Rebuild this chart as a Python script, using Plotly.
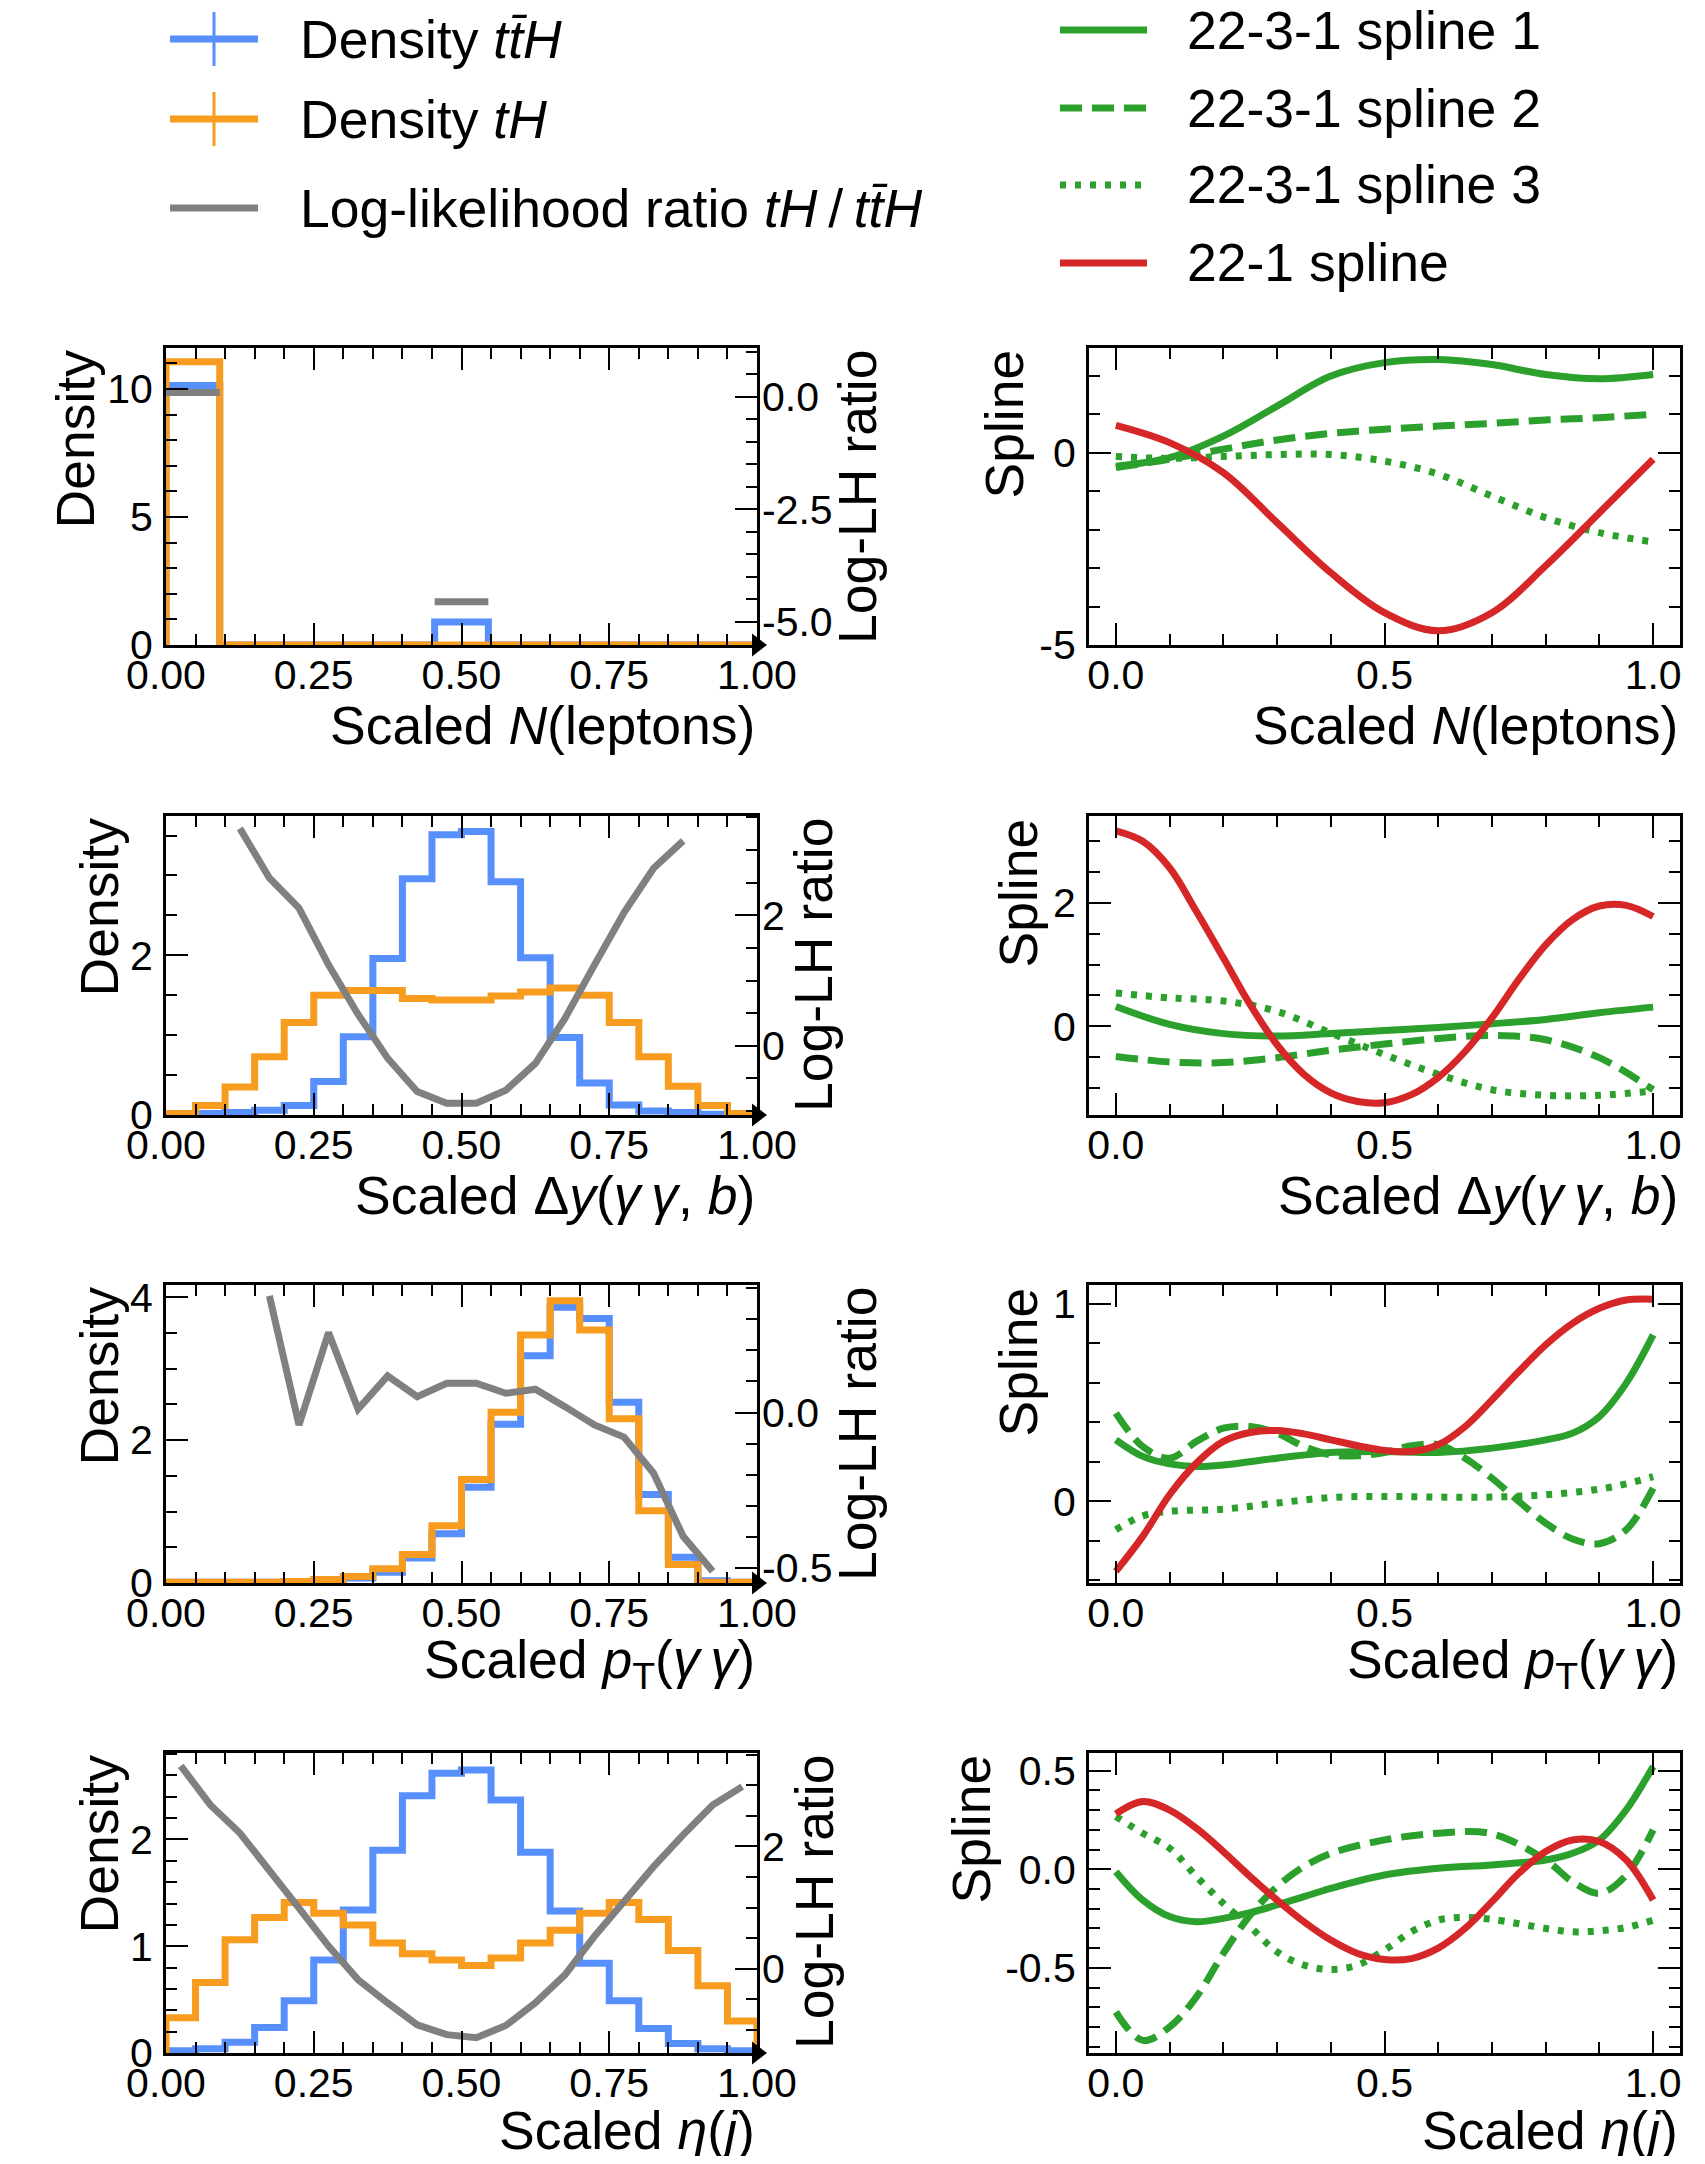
import numpy as np
import plotly.graph_objects as go

# page is 1705x2164; the browser body has an 8px margin, so the figure is inset
PAGE_W, PAGE_H = 1705, 2164
OFF = 8
W, H = PAGE_W - 2 * OFF, PAGE_H - 2 * OFF
FONT = "Liberation Sans"
TITLE_SIZE = 53.5
TICK_SIZE = 41

BLUE = "#5790fc"
ORANGE = "#f89c20"
GRAY = "#808080"
GREEN = "#2ca02c"
RED = "#d62728"

# ---------------- data ----------------
# Row 1: scaled N(leptons), 11 bins
NLEP_TTH = [10.14, 0, 0, 0, 0, 0.90, 0, 0, 0, 0, 0]
NLEP_TH = [11.06, 0, 0, 0, 0, 0.0, 0, 0, 0, 0, 0]
NLEP_LLR = [0.09, None, None, None, None, -4.55, None, None, None, None, None]

# Row 2: scaled Delta y(gamma gamma, b), 20 bins
DY_TTH = [0.0, 0.02, 0.03, 0.06, 0.12, 0.42, 0.98, 1.96, 2.96, 3.51,
          3.55, 2.92, 1.97, 0.97, 0.40, 0.125, 0.05, 0.03, 0.01, 0.0]
DY_TH = [0.02, 0.12, 0.35, 0.73, 1.16, 1.50, 1.56, 1.56, 1.46, 1.44,
         1.44, 1.49, 1.54, 1.59, 1.50, 1.16, 0.73, 0.36, 0.12, 0.02]
DY_LLR = [None, None, 3.33, 2.57, 2.11, 1.24, 0.48, -0.19, -0.70, -0.88,
          -0.88, -0.68, -0.27, 0.42, 1.24, 2.04, 2.72, 3.14, None, None]

# Row 3: scaled pT(gamma gamma), 20 bins
PT_TTH = [0.01, 0.01, 0.01, 0.01, 0.02, 0.03, 0.07, 0.15, 0.35, 0.69,
          1.34, 2.22, 3.18, 3.86, 3.70, 2.53, 1.24, 0.36, 0.03, 0.01]
PT_TH = [0.01, 0.01, 0.01, 0.01, 0.02, 0.05, 0.09, 0.20, 0.40, 0.80,
         1.45, 2.39, 3.47, 3.95, 3.54, 2.30, 1.01, 0.26, 0.01, 0.01]
PT_LLR = [None, None, None, 0.375, -0.04, 0.257, 0.011, 0.118, 0.051, 0.094,
          0.094, 0.062, 0.075, 0.019, -0.04, -0.079, -0.195, -0.398, -0.51, None]

# Row 4: scaled eta(j), 20 bins
ETA_TTH = [0.02, 0.04, 0.10, 0.24, 0.49, 0.87, 1.34, 1.90, 2.41, 2.62,
           2.65, 2.37, 1.88, 1.33, 0.84, 0.49, 0.23, 0.09, 0.04, 0.02]
ETA_TH = [0.33, 0.66, 1.06, 1.27, 1.41, 1.31, 1.20, 1.03, 0.93, 0.87,
          0.82, 0.89, 1.03, 1.15, 1.31, 1.41, 1.25, 0.96, 0.63, 0.30]
ETA_LLR = [3.32, 2.68, 2.22, 1.62, 0.99, 0.37, -0.18, -0.56, -0.92, -1.08,
           -1.13, -0.93, -0.56, -0.10, 0.53, 1.10, 1.67, 2.19, 2.68, 2.98]

# Spline curves
SPL_X10 = [0.0, 0.1, 0.2, 0.3, 0.4, 0.5, 0.6, 0.7, 0.8, 0.9, 1.0]
SPL_X20 = [0.0, 0.05, 0.1, 0.15, 0.2, 0.25, 0.3, 0.35, 0.4, 0.45, 0.5,
           0.55, 0.6, 0.65, 0.7, 0.75, 0.8, 0.85, 0.9, 0.95, 1.0]

R1_S1 = [-0.35, -0.13, 0.43, 1.21, 1.99, 2.34, 2.42, 2.29, 2.03, 1.92, 2.03]
R1_S2 = [-0.39, -0.17, 0.09, 0.33, 0.50, 0.61, 0.69, 0.76, 0.85, 0.91, 1.0]
R1_S3 = [-0.10, -0.15, -0.10, -0.05, -0.05, -0.22, -0.56, -1.13, -1.69, -2.08, -2.32]
R1_RED = [0.71, 0.26, -0.52, -1.82, -3.12, -4.16, -4.63, -4.16, -2.94, -1.56, -0.17]

R2_S1 = [0.32, 0.03, -0.12, -0.16, -0.12, -0.07, -0.02, 0.04, 0.11, 0.22, 0.31]
R2_S2 = [-0.49, -0.58, -0.59, -0.51, -0.39, -0.29, -0.20, -0.15, -0.22, -0.51, -1.03]
R2_S3 = [0.54, 0.46, 0.41, 0.24, -0.11, -0.46, -0.78, -1.03, -1.12, -1.12, -1.05]
R2_RED = [3.17, 3.0, 2.57, 1.86, 1.11, 0.35, -0.30, -0.78, -1.08, -1.22, -1.24,
          -1.11, -0.83, -0.41, 0.135, 0.76, 1.32, 1.73, 1.95, 1.96, 1.78]

R3_S1_X = [0.0, 0.05, 0.1, 0.15, 0.2, 0.3, 0.4, 0.5, 0.6, 0.7, 0.8, 0.85, 0.9, 0.95, 1.0]
R3_S1 = [0.312, 0.228, 0.19, 0.177, 0.185, 0.219, 0.248, 0.253, 0.248, 0.27, 0.312,
         0.346, 0.43, 0.599, 0.843]
R3_S2 = [0.447, 0.278, 0.219, 0.304, 0.371, 0.379, 0.346, 0.278, 0.236, 0.231, 0.248,
         0.282, 0.287, 0.219, 0.118, 0.0, -0.11, -0.19, -0.214, -0.143, 0.067]
R3_S3_X = [0.0, 0.05, 0.1, 0.2, 0.3, 0.4, 0.5, 0.6, 0.7, 0.8, 0.9, 0.95, 1.0]
R3_S3 = [-0.143, -0.073, -0.05, -0.039, -0.008, 0.02, 0.025, 0.022, 0.022, 0.034,
         0.062, 0.089, 0.126]
R3_RED = [-0.354, -0.177, 0.034, 0.194, 0.304, 0.349, 0.359, 0.342, 0.312, 0.282, 0.258,
          0.253, 0.287, 0.379, 0.514, 0.658, 0.793, 0.902, 0.978, 1.02, 1.024]

R4_S12_X = [0.0, 0.05, 0.1, 0.15, 0.2, 0.25, 0.3, 0.35, 0.4, 0.5, 0.6, 0.7, 0.8,
            0.85, 0.9, 0.95, 1.0]
R4_S1 = [-0.012, -0.156, -0.24, -0.266, -0.249, -0.22, -0.181, -0.139, -0.097,
         -0.029, 0.005, 0.022, 0.047, 0.081, 0.149, 0.302, 0.522]
R4_S2 = [-0.724, -0.868, -0.80, -0.647, -0.427, -0.232, -0.088, 0.014, 0.081,
         0.149, 0.183, 0.18, 0.047, -0.063, -0.122, -0.029, 0.20]
R4_S3_X = [0.0, 0.05, 0.1, 0.15, 0.2, 0.25, 0.3, 0.35, 0.4, 0.45, 0.5, 0.55, 0.6,
           0.65, 0.7, 0.8, 0.85, 0.9, 0.95, 1.0]
R4_S3 = [0.268, 0.183, 0.107, -0.037, -0.173, -0.292, -0.419, -0.486, -0.508, -0.486,
         -0.41, -0.317, -0.258, -0.244, -0.254, -0.30, -0.317, -0.312, -0.295, -0.258]
R4_RED = [0.281, 0.344, 0.30, 0.208, 0.09, -0.037, -0.156, -0.266, -0.359, -0.427,
          -0.458, -0.453, -0.40, -0.30, -0.164, -0.02, 0.09, 0.149, 0.141, 0.047, -0.156]

# Tick labels
HIST_XTICKS = [0.0, 0.25, 0.5, 0.75, 1.0]
HIST_XLABELS = ["0.00", "0.25", "0.50", "0.75", "1.00"]
SPL_XTICKS = [0.0, 0.5, 1.0]
SPL_XLABELS = ["0.0", "0.5", "1.0"]

DENS_TICKS = [[0, 5, 10], [0, 2], [0, 2, 4], [0, 1, 2]]
DENS_LABELS = [["0", "5", "10"], ["0", "2"], ["0", "2", "4"], ["0", "1", "2"]]
LLR_TICKS = [[-5.0, -2.5, 0.0], [0, 2], [-0.5, 0.0], [0, 2]]
LLR_LABELS = [["-5.0", "-2.5", "0.0"], ["0", "2"], ["-0.5", "0.0"], ["0", "2"]]
SPL_TICKS = [[-5, 0], [0, 2], [0, 1], [-0.5, 0.0, 0.5]]
SPL_LABELS = [["-5", "0"], ["0", "2"], ["0", "1"], ["-0.5", "0.0", "0.5"]]

XTITLES = ["Scaled <i>N</i>(leptons)",
           "Scaled Δ<i>y</i>(<i>γ</i>\u2009<i>γ</i>, <i>b</i>)",
           "Scaled <i>p</i><sub>T</sub>(<i>γ</i>\u2009<i>γ</i>)",
           "Scaled <i>η</i>(<i>j</i>)"]

LEGEND_LEFT = ["Density <i>tt\u0304H</i>", "Density <i>tH</i>",
               "Log-likelihood ratio <i>tH</i>\u2009/\u2009<i>tt\u0304H</i>"]
LEGEND_RIGHT = ["22-3-1 spline 1", "22-3-1 spline 2", "22-3-1 spline 3", "22-1 spline"]

# ---------------- styling / layout ----------------
DENS_RANGE = [[0, 11.6], [0, 3.745], [0, 4.17], [0, 2.81]]
DENS_MINOR = [1, 0.5, 0.5, 0.2]
LLR_RANGE = [[-5.51, 1.08], [-1.06, 3.52], [-0.548, 0.41], [-1.38, 3.53]]
LLR_MINOR = [0.5, 0.5, 0.1, 0.5]
SPL_RANGE = [[-5.0, 2.72], [-1.44, 3.41], [-0.413, 1.096], [-0.932, 0.59]]
SPL_MINOR = [1, 0.5, 0.2, 0.1]

# positions in page pixels
LX = (166, 757)
RX = (1089, 1680)
ROWS = [(348, 645), (816, 1115), (1285, 1583), (1753, 2053)]
XTITLE_GAP = [80, 80, 80, 77]
DENS_TITLE_X = [79, 103, 103, 103]
LLR_TITLE_X = [861, 818, 861, 818]
SPL_TITLE_X = [1008, 1022, 1022, 975]

LW = 7
DASH = "22px,10px"
DOT = "6px,9px"


def pxx(p):
    return (p - OFF) / W


def pxy(p):
    return 1 - (p - OFF) / H


def axname(kind, i):
    return kind if i == 1 else f"{kind}{i}"


def laykey(kind, i):
    return f"{kind}axis" if i == 1 else f"{kind}axis{i}"


def hist_xy(vals):
    n = len(vals)
    edges = np.linspace(0, 1, n + 1)
    x = [edges[0]] + list(edges[:-1]) + [edges[-1], edges[-1]]
    y = [0] + list(vals) + [vals[-1], 0]
    return x, y


def centers(n):
    e = np.linspace(0, 1, n + 1)
    return list((e[:-1] + e[1:]) / 2)


def seg_xy(vals):
    n = len(vals)
    e = np.linspace(0, 1, n + 1)
    xs, ys = [], []
    for i, v in enumerate(vals):
        if v is None:
            continue
        xs += [e[i], e[i + 1], None]
        ys += [v, v, None]
    return xs, ys


common_axis = dict(showgrid=False, zeroline=False, showline=True, linewidth=3,
                   linecolor="black", ticks="inside", ticklen=22, tickwidth=2,
                   tickcolor="black", automargin=False,
                   tickfont=dict(size=TICK_SIZE, family=FONT, color="black"))


def minor(d):
    return dict(ticks="inside", ticklen=11, tickwidth=2, tickcolor="black",
                tickmode="linear", tick0=0, dtick=d, showgrid=False)


fig = go.Figure()
layout = dict(template="none", width=W, height=H, margin=dict(l=0, r=0, t=0, b=0, pad=0),
              autosize=False, paper_bgcolor="white", plot_bgcolor="rgba(0,0,0,0)",
              showlegend=False, font=dict(family=FONT, color="black"))
annotations = []
shapes = []

hist_tth = [NLEP_TTH, DY_TTH, PT_TTH, ETA_TTH]
hist_th = [NLEP_TH, DY_TH, PT_TH, ETA_TH]
llrs = [NLEP_LLR, DY_LLR, PT_LLR, ETA_LLR]
splines = [
    [(SPL_X10, R1_S1, "solid"), (SPL_X10, R1_S2, DASH), (SPL_X10, R1_S3, DOT), (SPL_X10, R1_RED, "red")],
    [(SPL_X10, R2_S1, "solid"), (SPL_X10, R2_S2, DASH), (SPL_X10, R2_S3, DOT), (SPL_X20, R2_RED, "red")],
    [(R3_S1_X, R3_S1, "solid"), (SPL_X20, R3_S2, DASH), (R3_S3_X, R3_S3, DOT), (SPL_X20, R3_RED, "red")],
    [(R4_S12_X, R4_S1, "solid"), (R4_S12_X, R4_S2, DASH), (R4_S3_X, R4_S3, DOT), (SPL_X20, R4_RED, "red")],
]

for r in range(4):
    top, bot = ROWS[r]
    ydom = [pxy(bot), pxy(top)]
    xl, xr = 2 * r + 1, 2 * r + 2
    yl, yll, yr = 3 * r + 1, 3 * r + 2, 3 * r + 3

    # ----- left panel -----
    layout[laykey("x", xl)] = dict(common_axis, domain=[pxx(LX[0]), pxx(LX[1])], range=[0, 1],
                                   anchor=axname("y", yl), mirror="ticks", tickmode="array",
                                   tickvals=HIST_XTICKS, ticktext=HIST_XLABELS,
                                   minor=minor(0.05), ticklabelstandoff=-8)
    layout[laykey("y", yl)] = dict(common_axis, domain=ydom, range=DENS_RANGE[r],
                                   anchor=axname("x", xl), mirror=True, tickmode="array",
                                   tickvals=DENS_TICKS[r], ticktext=DENS_LABELS[r],
                                   minor=minor(DENS_MINOR[r]), ticklabelstandoff=2)
    layout[laykey("y", yll)] = dict(common_axis, overlaying=axname("y", yl), side="right",
                                    anchor=axname("x", xl), range=LLR_RANGE[r], showline=False,
                                    tickmode="array", tickvals=LLR_TICKS[r], ticktext=LLR_LABELS[r],
                                    minor=minor(LLR_MINOR[r]), ticklabelstandoff=4)

    for vals, col in ((hist_tth[r], BLUE), (hist_th[r], ORANGE)):
        hx, hy = hist_xy(vals)
        fig.add_trace(go.Scatter(x=hx, y=hy, mode="lines", line=dict(color=col, width=LW, shape="hv"),
                                 xaxis=axname("x", xl), yaxis=axname("y", yl)))
    if r == 0:
        gx, gy = seg_xy(llrs[r])
        fig.add_trace(go.Scatter(x=gx, y=gy, mode="lines", line=dict(color=GRAY, width=LW),
                                 xaxis=axname("x", xl), yaxis=axname("y", yll)))
    else:
        fig.add_trace(go.Scatter(x=centers(len(llrs[r])), y=llrs[r], mode="lines",
                                 line=dict(color=GRAY, width=LW), connectgaps=False,
                                 xaxis=axname("x", xl), yaxis=axname("y", yll)))
    # arrow at end of x axis
    fig.add_trace(go.Scatter(x=[1.0], y=[DENS_RANGE[r][0]], mode="markers",
                             marker=dict(symbol="triangle-right", size=20, color="black"),
                             cliponaxis=False, xaxis=axname("x", xl), yaxis=axname("y", yl)))

    # ----- right panel -----
    layout[laykey("x", xr)] = dict(common_axis, domain=[pxx(RX[0]), pxx(RX[1])], range=[-0.05, 1.05],
                                   anchor=axname("y", yr), mirror="ticks", tickmode="array",
                                   tickvals=SPL_XTICKS, ticktext=SPL_XLABELS,
                                   minor=minor(0.1), ticklabelstandoff=-8)
    layout[laykey("y", yr)] = dict(common_axis, domain=ydom, range=SPL_RANGE[r],
                                   anchor=axname("x", xr), mirror="ticks", tickmode="array",
                                   tickvals=SPL_TICKS[r], ticktext=SPL_LABELS[r],
                                   minor=minor(SPL_MINOR[r]), ticklabelstandoff=2)
    for sx, sy, sty in splines[r]:
        if sty == "red":
            ln = dict(color=RED, width=LW, shape="spline")
        else:
            ln = dict(color=GREEN, width=LW, shape="spline", dash=sty)
        fig.add_trace(go.Scatter(x=sx, y=sy, mode="lines", line=ln,
                                 xaxis=axname("x", xr), yaxis=axname("y", yr)))

    # ----- titles -----
    tfont = dict(size=TITLE_SIZE, family=FONT, color="black")
    for xend in (LX[1], RX[1]):
        annotations.append(dict(text=XTITLES[r], xref="paper", yref="paper", x=pxx(xend),
                                y=pxy(bot + XTITLE_GAP[r]), xanchor="right", yanchor="middle",
                                showarrow=False, font=tfont))
    for tx, tt in ((DENS_TITLE_X[r], "Density"), (LLR_TITLE_X[r], "Log-LH ratio"),
                   (SPL_TITLE_X[r], "Spline")):
        annotations.append(dict(text=tt, xref="paper", yref="paper", x=pxx(tx - 4), y=pxy(top),
                                xanchor="center", yanchor="top", textangle=-90,
                                showarrow=False, font=tfont))

# ---------------- manual legend ----------------
lfont = dict(size=TITLE_SIZE, family=FONT, color="black")
left_rows_y = [39, 119, 208]
left_cols = [BLUE, ORANGE, GRAY]
for i, (txt, col, yy) in enumerate(zip(LEGEND_LEFT, left_cols, left_rows_y)):
    shapes.append(dict(type="line", xref="paper", yref="paper", x0=pxx(170), x1=pxx(258),
                       y0=pxy(yy), y1=pxy(yy), line=dict(color=col, width=LW)))
    if i < 2:
        shapes.append(dict(type="line", xref="paper", yref="paper", x0=pxx(214), x1=pxx(214),
                           y0=pxy(yy - 27), y1=pxy(yy + 27), line=dict(color=col, width=3)))
    annotations.append(dict(text=txt, xref="paper", yref="paper", x=pxx(298), y=pxy(yy),
                            xanchor="left", yanchor="middle", showarrow=False, font=lfont))

right_rows_y = [30, 108, 185, 263]
right_styles = [(GREEN, "solid"), (GREEN, DASH), (GREEN, DOT), (RED, "solid")]
for txt, (col, dsh), yy in zip(LEGEND_RIGHT, right_styles, right_rows_y):
    shapes.append(dict(type="line", xref="paper", yref="paper", x0=pxx(1060), x1=pxx(1147),
                       y0=pxy(yy), y1=pxy(yy), line=dict(color=col, width=LW, dash=dsh)))
    annotations.append(dict(text=txt, xref="paper", yref="paper", x=pxx(1185), y=pxy(yy),
                            xanchor="left", yanchor="middle", showarrow=False, font=lfont))

layout["annotations"] = annotations
layout["shapes"] = shapes
fig.update_layout(**layout)
fig.update_traces(showlegend=False, hoverinfo="skip")

fig.write_html("out.html")
